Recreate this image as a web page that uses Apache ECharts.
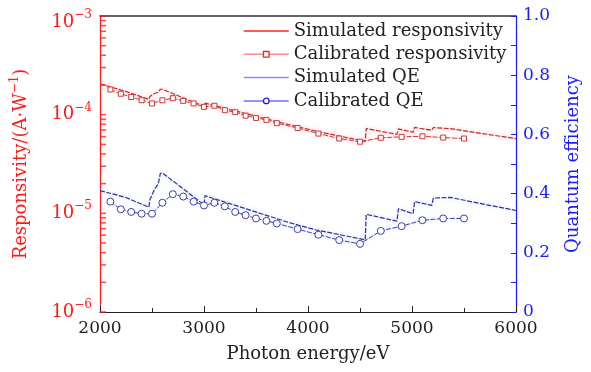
<!DOCTYPE html>
<html><head><meta charset="utf-8">
<script src="https://cdn.jsdelivr.net/npm/echarts@6/dist/echarts.min.js"></script>
<style>html,body{margin:0;padding:0;background:#fff}#c{width:591px;height:372px}</style>
</head><body><div id="c"></div>
<script>
// Simulated curves (photon energy in eV)
const simEnergy = [2000,2240,2470,2480,2525,2560,2580,2600,3000,3010,3550,3560,3830,3840,4080,4090,4550,4560,4855,4870,5010,5025,5190,5205,5370,5385,5720,5730,6000];
const simResp = [2.05e-4,1.73e-4,1.43e-4,1.53e-4,1.64e-4,1.69e-4,1.81e-4,1.81e-4,1.21e-4,1.31e-4,9.35e-5,9.44e-5,7.86e-5,7.94e-5,6.79e-5,6.87e-5,5.36e-5,7.24e-5,6.32e-5,7.17e-5,6.63e-5,7.42e-5,6.94e-5,7.40e-5,7.21e-5,7.30e-5,6.33e-5,6.39e-5,5.72e-5];
const simQE = [0.410,0.388,0.354,0.380,0.415,0.432,0.468,0.470,0.362,0.393,0.332,0.336,0.301,0.305,0.277,0.281,0.244,0.330,0.307,0.349,0.332,0.373,0.360,0.385,0.387,0.393,0.362,0.366,0.343];
// Calibrated points
const calEnergy = [2100,2200,2300,2400,2500,2600,2700,2800,2900,3000,3100,3200,3300,3400,3500,3600,3700,3900,4100,4300,4500,4700,4900,5100,5300,5500];
const calResp = [1.80e-4,1.63e-4,1.51e-4,1.40e-4,1.30e-4,1.40e-4,1.47e-4,1.38e-4,1.30e-4,1.20e-4,1.23e-4,1.11e-4,1.06e-4,9.77e-5,9.27e-5,8.85e-5,8.20e-5,7.32e-5,6.43e-5,5.73e-5,5.32e-5,5.83e-5,5.96e-5,6.04e-5,5.86e-5,5.73e-5];
const calQE = [0.373,0.347,0.338,0.332,0.332,0.369,0.398,0.390,0.373,0.360,0.369,0.357,0.338,0.327,0.316,0.308,0.299,0.280,0.261,0.243,0.230,0.274,0.290,0.310,0.316,0.316];
// Axis ticks
const respMajor = [1e-6,1e-5,1e-4,1e-3];
const respMinorMult = [2,3,4,5,6,7,8,9];
const seriesNames = ['Simulated responsivity','Calibrated responsivity','Simulated QE','Calibrated QE'];
const xMin = 2000, xMax = 6000;

const respTicks = [];
respMajor.forEach((m,i)=>{ respTicks.push(m); if(i<respMajor.length-1) respMinorMult.forEach(k=>respTicks.push(m*k)); });

const pair = (xs, ys) => xs.map((x,i)=>[x, ys[i]]);
const RED='#ff1a1a', BLUE='#1a1aff';
const FONT='DejaVu Serif';
const HIDDEN={color:'rgba(0,0,0,0)',borderColor:'rgba(0,0,0,0)',borderWidth:0,opacity:0};

const chart = echarts.init(document.getElementById('c'), null, {renderer:'canvas'});
chart.setOption({
  animation:false,
  backgroundColor:'#fff',
  textStyle:{fontFamily:FONT},
  grid:{left:100,right:75,top:10,bottom:60,containLabel:false},
  legend:{
    orient:'vertical', left:238, top:16, itemWidth:45, itemHeight:7, itemGap:3.3,
    textStyle:{fontFamily:FONT,fontSize:18,color:'#222',lineHeight:20},
    data:[
      {name:seriesNames[0], lineStyle:{color:'#ff2020',type:'solid',width:1.5}, itemStyle:HIDDEN},
      {name:seriesNames[1], lineStyle:{color:'#ff8a8a',type:'solid',width:1.5}, itemStyle:{color:'#fff',borderColor:'#e03030',borderWidth:1.3}},
      {name:seriesNames[2], lineStyle:{color:'#8a8aff',type:'solid',width:1.5}, itemStyle:HIDDEN},
      {name:seriesNames[3], lineStyle:{color:'#7070ff',type:'solid',width:1.5}, itemStyle:{color:'#fff',borderColor:'#2020e0',borderWidth:1.3}}
    ]
  },
  xAxis:[{
    type:'value', min:xMin, max:xMax, interval:1000,
    name:'Photon energy/eV', nameLocation:'middle', nameGap:33,
    nameTextStyle:{fontFamily:FONT,fontSize:18,color:'#222'},
    axisLine:{onZero:false,lineStyle:{color:'#222',width:1.2}},
    axisTick:{inside:true,length:6,lineStyle:{color:'#222'}},
    minorTick:{show:true,splitNumber:2,length:4,lineStyle:{color:'#222'}},
    axisLabel:{fontFamily:FONT,fontSize:17,color:'#222',margin:8,formatter:v=>String(v)},
    splitLine:{show:false}
  },{
    type:'value', min:xMin, max:xMax, position:'top',
    axisLine:{onZero:false,lineStyle:{color:'#333',width:1.5}},
    axisTick:{show:false}, axisLabel:{show:false}, splitLine:{show:false}
  }],
  yAxis:[{
    type:'log', logBase:10, min:1e-6, max:1e-3, position:'left',
    name:'{a|Responsivity/(A·W}{s|−1}{a|)}', nameLocation:'middle', nameGap:67, nameRotate:90,
    nameTextStyle:{color:RED, rich:{a:{fontFamily:FONT,fontSize:18,color:RED,lineHeight:24},s:{fontFamily:FONT,fontSize:12,color:RED,verticalAlign:'top',lineHeight:12}}},
    axisLine:{lineStyle:{color:RED,width:1.2}},
    axisTick:{show:false},
    axisLabel:{
      showMinLabel:true, showMaxLabel:true, margin:8,
      formatter:function(v){
        const e = Math.round(Math.log10(v));
        const s = '{b|10}{s|−'+(-e)+'}';
        return e===-3 ? '{g| }\n'+s : s;
      },
      rich:{
        b:{fontFamily:FONT,fontSize:18,color:RED,lineHeight:26},
        s:{fontFamily:FONT,fontSize:12,color:RED,verticalAlign:'top',lineHeight:12},
        g:{fontSize:6,lineHeight:12}
      }
    },
    splitLine:{show:false}
  },{
    type:'value', min:0, max:1, interval:0.2, position:'right',
    name:'Quantum efficiency', nameLocation:'middle', nameGap:48, nameRotate:90,
    nameTextStyle:{fontFamily:FONT,fontSize:18,color:BLUE},
    axisLine:{lineStyle:{color:BLUE,width:1.2}},
    axisTick:{inside:true,length:5,lineStyle:{color:BLUE}},
    minorTick:{show:true,splitNumber:2,length:5,lineStyle:{color:BLUE}},
    axisLabel:{fontFamily:FONT,fontSize:17,color:BLUE,margin:7,
      formatter:v=> v===0 ? '0' : v.toFixed(1)},
    splitLine:{show:false}
  }],
  series:[
    {name:'ticks', type:'scatter', xAxisIndex:0, yAxisIndex:0, data:respTicks.map(v=>[xMin, v]),
     symbol:'rect', symbolSize:[6,1.5], symbolOffset:[3,0], silent:true, clip:false, z:5,
     itemStyle:{color:RED}, tooltip:{show:false}},
    {name:seriesNames[0], type:'line', xAxisIndex:0, yAxisIndex:0, data:pair(simEnergy,simResp), symbol:'none',
     lineStyle:{color:'#c02828',width:1.2,type:[5,1.5],shadowColor:'rgba(255,120,120,0.6)',shadowBlur:4}, itemStyle:{color:'#c02828'}},
    {name:seriesNames[1], type:'line', xAxisIndex:0, yAxisIndex:0, data:pair(calEnergy,calResp), symbol:'rect', symbolSize:5,
     lineStyle:{color:'#d03838',width:1,type:[5,1.5],shadowColor:'rgba(255,140,140,0.6)',shadowBlur:4},
     itemStyle:{color:'#fff',borderColor:'#d03838',borderWidth:1}},
    {name:seriesNames[2], type:'line', xAxisIndex:0, yAxisIndex:1, data:pair(simEnergy,simQE), symbol:'none',
     lineStyle:{color:'#2e2e96',width:1.2,type:[5,1.5],shadowColor:'rgba(150,200,255,0.6)',shadowBlur:4}, itemStyle:{color:'#2e2e96'}},
    {name:seriesNames[3], type:'line', xAxisIndex:0, yAxisIndex:1, data:pair(calEnergy,calQE), symbol:'circle', symbolSize:7,
     lineStyle:{color:'#4040a8',width:1,type:[5,1.5],shadowColor:'rgba(150,200,255,0.6)',shadowBlur:4},
     itemStyle:{color:'#fff',borderColor:'#4040a8',borderWidth:1}}
  ]
});
</script></body></html>
